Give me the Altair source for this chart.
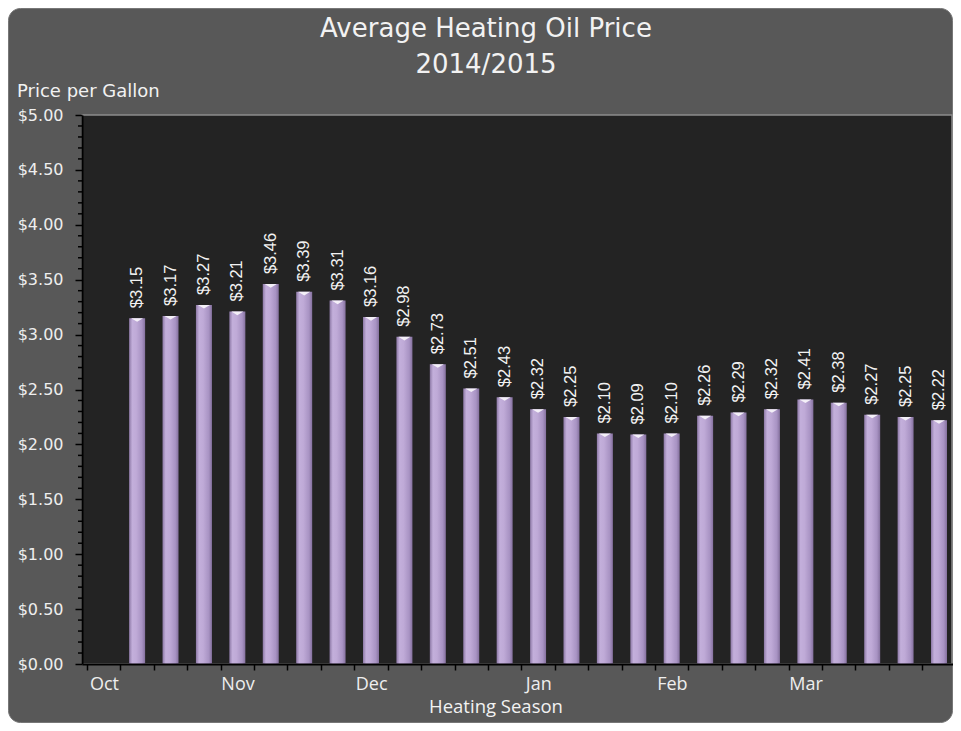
import altair as alt
import pandas as pd

# ---- data ----
prices = [3.15, 3.17, 3.27, 3.21, 3.46, 3.39, 3.31, 3.16, 2.98, 2.73, 2.51, 2.43,
          2.32, 2.25, 2.10, 2.09, 2.10, 2.26, 2.29, 2.32, 2.41, 2.38, 2.27, 2.25, 2.22]
week_slot = list(range(1, 26))          # slot 0 (early Oct) is empty
month_labels = ["Oct", "Nov", "Dec", "Jan", "Feb", "Mar"]
month_slots = [0, 4, 8, 13, 17, 21]
y_major = [i * 0.5 for i in range(11)]
y_minor = [round(i * 0.1, 1) for i in range(51) if i % 5 != 0]

title_line1 = "Average Heating Oil Price"
title_line2 = "2014/2015"
y_title = "Price per Gallon"
x_title = "Heating Season"

# ---- layout (page must fit 945x715 inside the 8px margin) ----
W, H = 871, 549
PAD = {"left": 74, "top": 107, "right": 0, "bottom": 59}
slot_px = 33.8
x_max = W / slot_px

df = pd.DataFrame({"slot": [s + 0.5 for s in week_slot], "price": prices})
minor_df = pd.DataFrame({"v": y_minor})

label_expr = ""
for s, m in zip(month_slots, month_labels):
    label_expr += f"datum.value == {s} ? '{m}' : "
label_expr += "''"

xscale = alt.Scale(domain=[0, x_max], nice=False, zero=False)
yscale = alt.Scale(domain=[0, 5], nice=False)

x_axis = alt.Axis(values=list(range(0, 26)), labelExpr=label_expr,
                  labelOffset=slot_px / 2, labelAlign="center", labelBaseline="alphabetic",
                  labelPadding=19, labelFont="Open Sans", labelFontSize=18,
                  labelColor="#eeeeee", labelOverlap=False, labelFlush=False,
                  tickSize=6, tickColor="#000000", tickWidth=1.5,
                  domainColor="#000000", domainWidth=2, grid=False, title=None, zindex=1)
y_axis = alt.Axis(values=y_major, format="$.2f", labelFont="DejaVu Sans", labelFontSize=16,
                  labelColor="#eeeeee", labelPadding=12, labelOverlap=False,
                  tickSize=7, tickColor="#000000", tickWidth=1.5,
                  domainColor="#000000", domainWidth=2, grid=False, title=None, zindex=1)

X = alt.X("slot:Q", scale=xscale, axis=x_axis)
Y = alt.Y("price:Q", scale=yscale, axis=y_axis)

one = alt.Data(values=[{}])

panel = alt.Chart(one).mark_rect(fill="#585858", stroke="#777777", strokeWidth=1,
                                 cornerRadius=12).encode(
    x=alt.value(-PAD["left"] + 0.5), x2=alt.value(W + PAD["right"] - 0.5),
    y=alt.value(-PAD["top"] + 0.5), y2=alt.value(H + PAD["bottom"] - 0.5))

plotbg = alt.Chart(one).mark_rect(fill="#232323", stroke="#8c8c8c", strokeWidth=1.5).encode(
    x=alt.value(0), x2=alt.value(W - 1), y=alt.value(0), y2=alt.value(H))

bar_fill = alt.Gradient(
    gradient="linear", x1=0, x2=1, y1=0, y2=0,
    stops=[alt.GradientStop(offset=0, color="#8d79a6"),
           alt.GradientStop(offset=0.2, color="#c3afdb"),
           alt.GradientStop(offset=0.45, color="#bfaad7"),
           alt.GradientStop(offset=0.8, color="#a893c3"),
           alt.GradientStop(offset=1, color="#85719e")])

bars = alt.Chart(df).mark_bar(orient="vertical", size=16, color=bar_fill).encode(x=X, y=Y)

caps = alt.Chart(df).mark_point(shape="M-1,0L1,0L0,0.6Z", size=144, filled=True,
                                fill="#f4f0f8", opacity=1, strokeWidth=0).encode(x=X, y=Y)

values = alt.Chart(df).mark_text(angle=270, align="left", baseline="middle", yOffset=-10,
                                 font="Liberation Sans", fontSize=16.5, color="#f2f2f2").encode(
    x=X, y=Y, text=alt.Text("price:Q", format="$.2f"))

minor = alt.Chart(minor_df).mark_rule(color="#000000", strokeWidth=1.5).encode(
    y=alt.Y("v:Q", scale=yscale), x=alt.value(-4), x2=alt.value(0))

def label(txt, x, y, size, font, align="center"):
    return alt.Chart(one).mark_text(text=txt, font=font, fontSize=size, color="#f2f2f2",
                                    align=align, baseline="alphabetic").encode(
        x=alt.value(x), y=alt.value(y))

t1 = label(title_line1, 404, -78, 26, "DejaVu Sans")
t2 = label(title_line2, 404, -42, 26, "DejaVu Sans")
ty = label(y_title, -65, -18, 18, "DejaVu Sans", align="left")
tx = label(x_title, 414, 598, 18.5, "Open Sans")

chart = alt.layer(panel, plotbg, bars, caps, values, minor, t1, t2, ty, tx).properties(
    width=W, height=H,
    autosize=alt.AutoSizeParams(type="none"),
    padding=PAD,
    background="white",
).configure_view(strokeWidth=0)

chart.save("out.html", embed_options={"renderer": "svg", "actions": False})
